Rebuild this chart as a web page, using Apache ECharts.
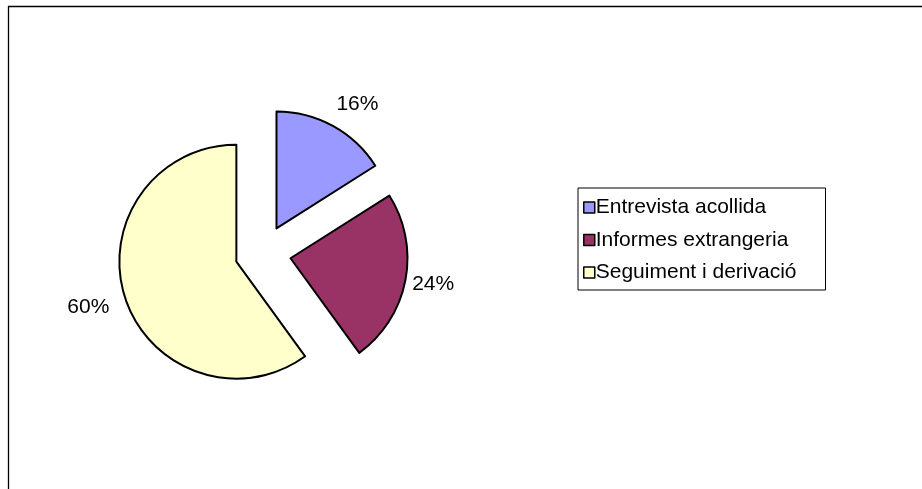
<!DOCTYPE html>
<html>
<head>
<meta charset="utf-8">
<script src="https://cdn.jsdelivr.net/npm/echarts@6/dist/echarts.min.js"></script>
<style>
html,body{margin:0;padding:0;background:#fff;}
#c{width:922px;height:489px;}
</style>
</head>
<body>
<div id="c"></div>
<script>
const categories = ['Entrevista acollida', 'Informes extrangeria', 'Seguiment i derivació'];
const values = [16, 24, 60];
const colors = ['#9999FF', '#993366', '#FFFFCC'];
const labelLens = [26, 15, 26];
const labelShift = [-14, -13, 14];

const chart = echarts.init(document.getElementById('c'), null, {renderer: 'canvas'});
const FONT = '"Liberation Sans", Arial, sans-serif';

chart.setOption({
  animation: false,
  backgroundColor: '#ffffff',
  graphic: [{
    type: 'rect',
    shape: {x: 8.5, y: 6.5, width: 1000, height: 1000},
    style: {fill: 'none', stroke: '#000', lineWidth: 1.3},
    silent: true
  }],
  legend: {
    orient: 'vertical',
    left: 578,
    top: 188,
    padding: [9, 29, 7, 5],
    itemGap: 11.5,
    itemWidth: 11,
    itemHeight: 11,
    borderColor: '#000',
    borderWidth: 1,
    backgroundColor: '#fff',
    selectedMode: false,
    icon: 'rect',
    itemStyle: {borderColor: '#000', borderWidth: 1.5},
    textStyle: {fontFamily: FONT, fontSize: 21, color: '#000', padding: [0, 0, 0, -4]},
    data: categories
  },
  series: [{
    type: 'pie',
    center: [263, 253],
    radius: 117,
    startAngle: 90,
    clockwise: true,
    selectedMode: 'multiple',
    selectedOffset: 28,
    percentPrecision: 0,
    avoidLabelOverlap: false,
    itemStyle: {borderColor: '#000', borderWidth: 2},
    emphasis: {disabled: true},
    label: {
      show: true,
      position: 'outside',
      formatter: '{d}%',
      fontFamily: FONT,
      fontSize: 21,
      color: '#000',
      alignTo: 'none'
    },
    labelLine: {show: false, length2: 0},
    labelLayout: function (params) {
      return {dx: labelShift[params.dataIndex], dy: 1};
    },
    data: categories.map((name, i) => ({
      name: name,
      value: values[i],
      selected: true,
      itemStyle: {color: colors[i]},
      labelLine: {show: false, length: labelLens[i], length2: 0}
    }))
  }]
});
</script>
</body>
</html>
